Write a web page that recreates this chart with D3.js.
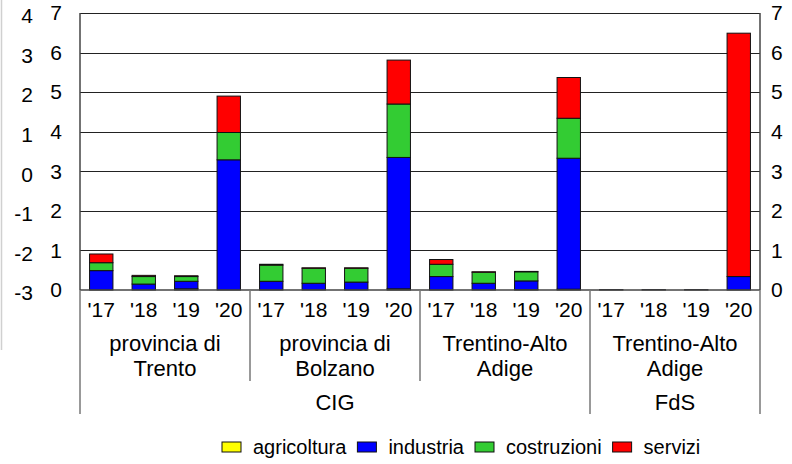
<!DOCTYPE html>
<html>
<head>
<meta charset="utf-8">
<script src="https://cdn.jsdelivr.net/npm/d3@7"></script>
<style>
  body { margin: 0; background: #fff; }
  text { font-family: "Liberation Sans", Arial, sans-serif; fill: #000; }
</style>
</head>
<body>
<div id="chart"></div>
<script>
// data
var years = ["'17", "'18", "'19", "'20"];
var areas = [["provincia di", "Trento"], ["provincia di", "Bolzano"], ["Trentino-Alto", "Adige"], ["Trentino-Alto", "Adige"]];
var sources = ["CIG", "FdS"];
var sourceSpan = [3, 1]; // number of areas under each source
var seriesNames = ["agricoltura", "industria", "costruzioni", "servizi"];
var seriesColors = ["#ffff00", "#0000ff", "#33cc33", "#ff0000"];

var agricoltura = [0, 0, 0.03, 0, 0, 0, 0, 0.03, 0, 0, 0.01, 0.02, 0, 0, 0, 0];
var industria = [0.49, 0.15, 0.19, 3.29, 0.22, 0.17, 0.20, 3.32, 0.34, 0.17, 0.22, 3.31, 0.01, 0.01, 0.01, 0.34];
var costruzioni = [0.20, 0.19, 0.12, 0.69, 0.41, 0.38, 0.35, 1.35, 0.31, 0.28, 0.23, 1.01, 0, 0, 0, 0];
var servizi = [0.22, 0.03, 0.02, 0.92, 0.02, 0.01, 0.01, 1.11, 0.12, 0.01, 0.01, 1.03, 0, 0, 0, 6.15];

var yTicks = [0, 1, 2, 3, 4, 5, 6, 7];
var yTicksShifted = [-3, -2, -1, 0, 1, 2, 3, 4]; // the second, stray left scale

var width = 792, height = 464;
var plot = {left: 80, right: 760, top: 13, bottom: 290};

var svg = d3.select("#chart").append("svg")
    .attr("width", width)
    .attr("height", height);

// build rows for the stack
var rows = [];
areas.forEach(function(a, gi) {
    years.forEach(function(y, yi) {
        var i = gi * years.length + yi;
        rows.push({id: i, agricoltura: agricoltura[i], industria: industria[i],
                   costruzioni: costruzioni[i], servizi: servizi[i]});
    });
});

var x = d3.scaleBand()
    .domain(rows.map(function(d) { return d.id; }))
    .range([plot.left, plot.right])
    .paddingInner(0.45)
    .paddingOuter(0.225);

var y = d3.scaleLinear().domain([0, 7]).range([plot.bottom, plot.top]);

// faint frame line at far left
svg.append("line")
    .attr("x1", 1.5).attr("x2", 1.5).attr("y1", 0).attr("y2", 350)
    .attr("stroke", "#d0d0d0").attr("stroke-width", 1.5);

// gridlines
svg.append("g").selectAll("line")
    .data(yTicks.filter(function(t) { return t > 0; }))
    .join("line")
    .attr("x1", plot.left).attr("x2", plot.right)
    .attr("y1", function(d) { return Math.round(y(d)) + 0.5; })
    .attr("y2", function(d) { return Math.round(y(d)) + 0.5; })
    .attr("stroke", "#222").attr("stroke-width", 1);

// bars
var stack = d3.stack().keys(seriesNames);
var layers = stack(rows);

svg.append("g").selectAll("g")
    .data(layers)
    .join("g")
    .attr("fill", function(d, i) { return seriesColors[i]; })
    .selectAll("rect")
    .data(function(d) { return d; })
    .join("rect")
    .attr("x", function(d) { return x(d.data.id); })
    .attr("width", x.bandwidth())
    .attr("y", function(d) { return y(d[1]); })
    .attr("height", function(d) { return Math.max(0, y(d[0]) - y(d[1])); })
    .attr("stroke", "#111")
    .attr("stroke-width", 1);

// left and right axis lines of the plot
svg.append("line")
    .attr("x1", plot.left).attr("x2", plot.left)
    .attr("y1", plot.top).attr("y2", plot.bottom)
    .attr("stroke", "#444").attr("stroke-width", 1.5);
svg.append("line")
    .attr("x1", plot.right).attr("x2", plot.right)
    .attr("y1", plot.top).attr("y2", plot.bottom)
    .attr("stroke", "#444").attr("stroke-width", 1.5);

// y axis labels (two stacked left scales and one right)
var fontSize = 21;
var fmt = function(d) { return String(d); }; // plain hyphen minus, as in the picture

var leftAxis = d3.axisLeft(y).tickValues(yTicks).tickSize(0).tickPadding(0).tickFormat(fmt);
var gl = svg.append("g").attr("transform", "translate(62,0)").call(leftAxis);
gl.select(".domain").remove();
gl.selectAll("text").attr("font-size", fontSize).attr("font-family", null);

var yShift = d3.scaleLinear().domain([-3, 4]).range([plot.bottom, plot.top]);
var leftAxis2 = d3.axisLeft(yShift).tickValues(yTicksShifted).tickSize(0).tickPadding(0).tickFormat(fmt);
var gl2 = svg.append("g").attr("transform", "translate(33,3)").call(leftAxis2);
gl2.select(".domain").remove();
gl2.selectAll("text").attr("font-size", fontSize).attr("font-family", null);

var rightAxis = d3.axisRight(y).tickValues(yTicks).tickSize(0).tickPadding(0).tickFormat(fmt);
var gr = svg.append("g").attr("transform", "translate(771,0)").call(rightAxis);
gr.select(".domain").remove();
gr.selectAll("text").attr("font-size", fontSize).attr("font-family", null);

// category axis
svg.append("line")
    .attr("x1", plot.left).attr("x2", plot.right)
    .attr("y1", plot.bottom).attr("y2", plot.bottom)
    .attr("stroke", "#444").attr("stroke-width", 1.5);

var xAxis = d3.axisBottom(x).tickSize(0).tickPadding(0)
    .tickFormat(function(d) { return years[d % years.length]; });
var gx = svg.append("g").attr("transform", "translate(0," + (plot.bottom + 12) + ")").call(xAxis);
gx.select(".domain").remove();
gx.selectAll("text").attr("font-size", fontSize).attr("font-family", null)
    .attr("dy", "0.71em");

// area groups
var groupW = (plot.right - plot.left) / areas.length;
var sepX = d3.range(areas.length + 1).map(function(i) { return plot.left + i * groupW; });
var outer = [0];
var acc = 0;
sourceSpan.forEach(function(s) { acc += s; outer.push(acc); });

svg.append("g").selectAll("line")
    .data(sepX)
    .join("line")
    .attr("x1", function(d) { return d; }).attr("x2", function(d) { return d; })
    .attr("y1", plot.bottom)
    .attr("y2", function(d, i) { return outer.indexOf(i) >= 0 ? 414 : 381; })
    .attr("stroke", "#777").attr("stroke-width", 1.5);

var ga = svg.append("g").selectAll("text")
    .data(areas)
    .join("text")
    .attr("text-anchor", "middle")
    .attr("font-size", 22)
    .attr("x", function(d, i) { return plot.left + (i + 0.5) * groupW; })
    .attr("y", 351);
ga.selectAll("tspan")
    .data(function(d) { return d; })
    .join("tspan")
    .attr("x", function() { return d3.select(this.parentNode).attr("x"); })
    .attr("dy", function(d, i) { return i === 0 ? 0 : 25; })
    .text(function(d) { return d; });

svg.append("g").selectAll("text")
    .data(sources)
    .join("text")
    .attr("text-anchor", "middle")
    .attr("font-size", 22)
    .attr("x", function(d, i) { return (sepX[outer[i]] + sepX[outer[i + 1]]) / 2; })
    .attr("y", 410)
    .text(function(d) { return d; });

// legend, items laid out one after another
var legend = svg.append("g").attr("transform", "translate(222,442)");
var lx = 0;
seriesNames.forEach(function(name, i) {
    var item = legend.append("g").attr("transform", "translate(" + lx + ",0)");
    item.append("rect")
        .attr("width", 19).attr("height", 10)
        .attr("fill", seriesColors[i])
        .attr("stroke", "#111").attr("stroke-width", 1);
    var t = item.append("text")
        .attr("x", 31).attr("y", 5).attr("dy", "0.35em")
        .attr("font-size", 20)
        .text(name);
    lx += 31 + t.node().getComputedTextLength() + 11;
});
</script>
</body>
</html>
